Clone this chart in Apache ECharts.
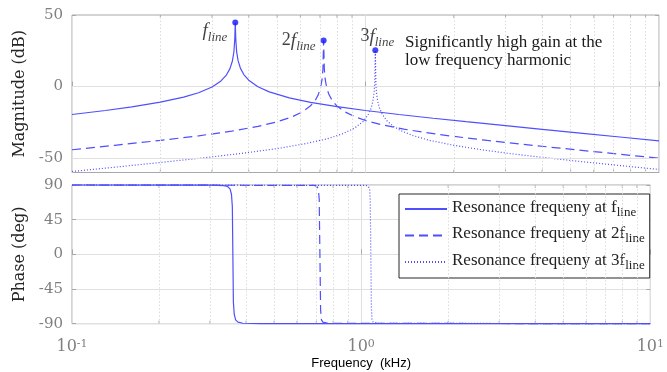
<!DOCTYPE html>
<html><head><meta charset="utf-8">
<script src="https://cdn.jsdelivr.net/npm/echarts@6/dist/echarts.min.js"></script>
<style>html,body{margin:0;padding:0;background:#fff}#c{width:667px;height:372px}</style>
</head><body><div id="c"></div>
<script>
// ---- data ----
const seriesNames = ['Resonance frequeny at f', 'Resonance frequeny at 2f', 'Resonance frequeny at 3f'];

const freq1 = [0.1,0.13,0.16,0.2,0.24,0.27,0.3,0.32,0.335,0.345,0.352,0.356,0.3585,0.36,0.3615,0.364,0.368,0.375,0.385,0.4,0.43,0.47,0.55,0.65,0.8,1,1.3,1.7,2.2,3,4,5.5,7.5,10];
const mag1  = [-19.5,-16.7,-14.2,-10.9,-7.4,-4.3,-0.3,3.5,7.8,12.4,17.9,24.0,32.5,44.7,32.6,24.1,18.1,12.7,8.4,4.5,-0.1,-3.7,-7.9,-11.0,-14.0,-16.7,-19.5,-22.1,-24.5,-27.3,-29.9,-32.7,-35.4,-37.9];

const freq2 = [0.1,0.14,0.2,0.27,0.35,0.43,0.5,0.56,0.61,0.65,0.675,0.69,0.703,0.711,0.716,0.72,0.724,0.729,0.737,0.75,0.77,0.8,0.85,0.92,1,1.15,1.35,1.6,2,2.6,3.4,4.5,6,8,10];
const mag2  = [-44.1,-41.0,-37.6,-34.4,-31.1,-27.8,-24.6,-21.3,-17.6,-13.4,-9.4,-5.8,-0.7,4.8,11.9,32.2,12.0,5.0,-0.5,-5.4,-9.7,-13.6,-17.6,-21.0,-23.7,-26.9,-29.7,-32.1,-34.8,-37.6,-40.2,-42.8,-45.4,-48.0,-50.0];

const freq3 = [0.1,0.14,0.2,0.28,0.38,0.5,0.62,0.74,0.84,0.92,0.98,1.02,1.045,1.06,1.07,1.075,1.08,1.085,1.09,1.1,1.115,1.14,1.18,1.24,1.32,1.45,1.65,2,2.5,3.2,4.2,5.5,7.5,10];
const mag3  = [-59.3,-56.3,-53.0,-49.8,-46.6,-43.3,-40.0,-36.5,-32.8,-28.8,-24.5,-19.8,-15.1,-10.1,-4.1,2.0,25.3,2.0,-4.0,-10.0,-14.8,-19.4,-23.7,-27.5,-30.8,-34.2,-37.5,-41.0,-44.2,-47.1,-49.9,-52.5,-55.3,-57.9];

const phaseFreq1 = [0.1,0.3,0.335,0.345,0.352,0.356,0.3585,0.36,0.3615,0.364,0.368,0.375,0.39,0.45,10];
const phase1     = [90,89.8,89.2,88,85,78,62,0,-62,-78,-85,-88,-89.4,-89.8,-90];
const phaseFreq2 = [0.1,0.69,0.703,0.711,0.716,0.72,0.724,0.729,0.737,0.77,10];
const phase2     = [90,89.5,88,85,72,0,-72,-85,-88,-89.5,-90];
const phaseFreq3 = [0.1,1.04,1.06,1.07,1.075,1.08,1.085,1.09,1.1,1.14,10];
const phase3     = [90,89.5,88,84,70,0,-70,-84,-88,-89.5,-90];

const peakFreq   = [0.36, 0.72, 1.08];
const peakMag    = [44.7, 32.2, 25.3];
const peakPrefix = ['', '2', '3'];

const magTicks   = [-50, 0, 50];
const minorFreqs = [0.2,0.3,0.4,0.5,0.6,0.7,0.8,0.9,2,3,4,5,6,7,8,9];
const annotationText = ['Significantly high gain at the', 'low frequency harmonic'];

// ---- styling ----
const lineColor = '#4f4fff';
const dotColor = '#1414ff';
const lineTypes = ['solid', [9,5], [1,2]];
const serif = 'DejaVu Serif';
const serif2 = 'Liberation Serif';
const tickColor = '#7f7f7f';
const gridGray = '#e0e0e0';
const boxGray = '#a8a8a8';

const zip = (a, b) => a.map((v, i) => [v, b[i]]);
const magData = [zip(freq1, mag1), zip(freq2, mag2), zip(freq3, mag3)];
const phaseData = [zip(phaseFreq1, phase1), zip(phaseFreq2, phase2), zip(phaseFreq3, phase3)];

const chart = echarts.init(document.getElementById('c'), null, {renderer: 'canvas'});

const grids = [
  {left: 72, top: 15, width: 587, height: 157.5, show: true, borderColor: boxGray, borderWidth: 1, backgroundColor: '#fff'},
  {left: 72, top: 185, width: 587, height: 138.7, show: true, borderColor: boxGray, borderWidth: 1, backgroundColor: '#fff'}
];

const xBase = {
  type: 'log', logBase: 10, min: 0.1, max: 10,
  axisLine: {show: false},
  axisTick: {show: true, inside: true, length: 5, lineStyle: {color: boxGray}},
  splitLine: {show: true, lineStyle: {color: gridGray, width: 1}}
};
const xAxes = [
  Object.assign({}, xBase, {gridIndex: 0, axisLabel: {show: false}}),
  Object.assign({}, xBase, {gridIndex: 1,
    name: 'Frequency  (kHz)', nameLocation: 'middle', nameGap: 33,
    nameTextStyle: {fontFamily: 'Liberation Sans', fontSize: 13, color: '#000'},
    axisLabel: {show: true, margin: 15,
      formatter: v => '{b|10}{p|' + Math.round(Math.log10(v)) + '}',
      rich: {
        b: {fontFamily: serif, fontSize: 16, color: tickColor, lineHeight: 16, verticalAlign: 'bottom'},
        p: {fontFamily: serif, fontSize: 11, color: tickColor, lineHeight: 4, verticalAlign: 'top'}
      }
    }})
];

const yAxes = [
  {gridIndex: 0, type: 'value', min: -60, max: 50, position: 'left',
   name: 'Magnitude (dB)', nameLocation: 'middle', nameGap: 37,
   nameTextStyle: {fontFamily: serif, fontSize: 16, color: '#262626'},
   axisLine: {show: false},
   axisTick: {show: true, inside: true, length: 4, customValues: magTicks, lineStyle: {color: boxGray}},
   axisLabel: {customValues: magTicks, fontFamily: serif, fontSize: 15, color: tickColor, margin: 9},
   splitLine: {show: false}},
  {gridIndex: 0, type: 'value', min: -60, max: 50, position: 'right',
   axisLine: {show: false}, axisLabel: {show: false},
   axisTick: {show: true, inside: true, length: 4, customValues: magTicks, lineStyle: {color: boxGray}},
   splitLine: {show: false}},
  {gridIndex: 1, type: 'value', min: -90, max: 90, interval: 45, position: 'left',
   name: 'Phase (deg)', nameLocation: 'middle', nameGap: 37,
   nameTextStyle: {fontFamily: serif, fontSize: 16, color: '#262626'},
   axisLine: {show: false},
   axisTick: {show: true, inside: true, length: 4, lineStyle: {color: boxGray}},
   axisLabel: {fontFamily: serif, fontSize: 15, color: tickColor, margin: 9},
   splitLine: {show: true, lineStyle: {color: gridGray}}},
  {gridIndex: 1, type: 'value', min: -90, max: 90, interval: 45, position: 'right',
   axisLine: {show: false}, axisLabel: {show: false},
   axisTick: {show: true, inside: true, length: 4, lineStyle: {color: boxGray}},
   splitLine: {show: false}}
];

const minorMarks = minorFreqs.map(v => ({xAxis: v, lineStyle: {type: [1.5, 2], color: '#dcdcdc', width: 1}}));
const series = [];
series.push({type: 'line', xAxisIndex: 0, yAxisIndex: 0, data: [], z: 1, silent: true,
  markLine: {silent: true, symbol: 'none', label: {show: false}, animation: false,
    data: minorMarks.concat(magTicks.filter(v => v > -60 && v < 50).map(v => ({yAxis: v, lineStyle: {type: 'solid', color: gridGray, width: 1}})))}});
series.push({type: 'line', xAxisIndex: 1, yAxisIndex: 2, data: [], z: 1, silent: true,
  markLine: {silent: true, symbol: 'none', label: {show: false}, animation: false, data: minorMarks}});

// minor tick marks (inside, bottom and top edges)
function minorTickSeries(xi, yi, yMin, yMax) {
  return {type: 'custom', xAxisIndex: xi, yAxisIndex: yi, z: 2, silent: true, clip: false,
    data: minorFreqs.map(v => [v, yMin]),
    renderItem: (params, api) => {
      const b = api.coord([api.value(0), yMin]);
      const t = api.coord([api.value(0), yMax]);
      return {type: 'group', children: [
        {type: 'line', shape: {x1: b[0], y1: b[1], x2: b[0], y2: b[1] - 3}, style: {stroke: boxGray, lineWidth: 1}},
        {type: 'line', shape: {x1: t[0], y1: t[1], x2: t[0], y2: t[1] + 3}, style: {stroke: boxGray, lineWidth: 1}}
      ]};
    }};
}
series.push(minorTickSeries(0, 0, -60, 50));
series.push(minorTickSeries(1, 2, -90, 90));

for (let i = 0; i < 3; i++) {
  series.push({name: seriesNames[i], type: 'line', xAxisIndex: 0, yAxisIndex: 0, data: magData[i],
    symbol: 'none', z: 5 - i * 0.1, clip: true,
    lineStyle: {color: lineColor, width: 1.2, type: lineTypes[i]}, itemStyle: {color: lineColor}});
}
for (let i = 0; i < 3; i++) {
  series.push({name: seriesNames[i], type: 'line', xAxisIndex: 1, yAxisIndex: 2, data: phaseData[i],
    symbol: 'none', z: 5 - i * 0.1, clip: false,
    lineStyle: {color: lineColor, width: 1.2, type: lineTypes[i]}, itemStyle: {color: lineColor}});
}

const labelRich = {
  f: {fontFamily: serif2, fontStyle: 'italic', fontSize: 19, lineHeight: 22, verticalAlign: 'top', color: '#111'},
  n: {fontFamily: serif2, fontSize: 18, lineHeight: 22, verticalAlign: 'top', color: '#111'},
  s: {fontFamily: serif2, fontStyle: 'italic', fontSize: 13, lineHeight: 22, verticalAlign: 'bottom', color: '#111'}
};
const labelPos = [
  {position: 'left', offset: [0, 10], distance: 5},
  {position: 'left', offset: [0, 2], distance: 5},
  {position: 'top', offset: [2, 7], distance: 5}
];
series.push({type: 'scatter', xAxisIndex: 0, yAxisIndex: 0, z: 8, symbolSize: 6,
  itemStyle: {color: dotColor},
  data: peakFreq.map((f, i) => ({
    value: [f, peakMag[i]],
    label: Object.assign({show: true, formatter: (peakPrefix[i] ? '{n|' + peakPrefix[i] + '}' : '') + '{f|f}{s|line}', rich: labelRich}, labelPos[i])
  }))});

chart.setOption({
  animation: false,
  grid: grids,
  xAxis: xAxes,
  yAxis: yAxes,
  series: series,
  legend: {
    data: seriesNames, orient: 'vertical', left: 399, top: 194,
    backgroundColor: '#fff', borderColor: '#262626', borderWidth: 1,
    padding: [5, 5, 6, 5], itemWidth: 42, itemHeight: 12, itemGap: 6.5, itemTextGap: 3, selectedMode: false,
    itemStyle: {opacity: 0},
    formatter: name => '{a|' + name + '}{s|line}',
    textStyle: {rich: {
      a: {fontFamily: serif2, fontSize: 17, color: '#222', lineHeight: 20, verticalAlign: 'top'},
      s: {fontFamily: serif2, fontSize: 13, color: '#222', lineHeight: 20, verticalAlign: 'bottom'}
    }}
  },
  graphic: [{type: 'text', left: 405, top: 34, z: 10,
    style: {text: annotationText.join('\n'), font: '17px "Liberation Serif"', fill: '#1a1a1a', lineHeight: 18}}]
});
</script></body></html>
